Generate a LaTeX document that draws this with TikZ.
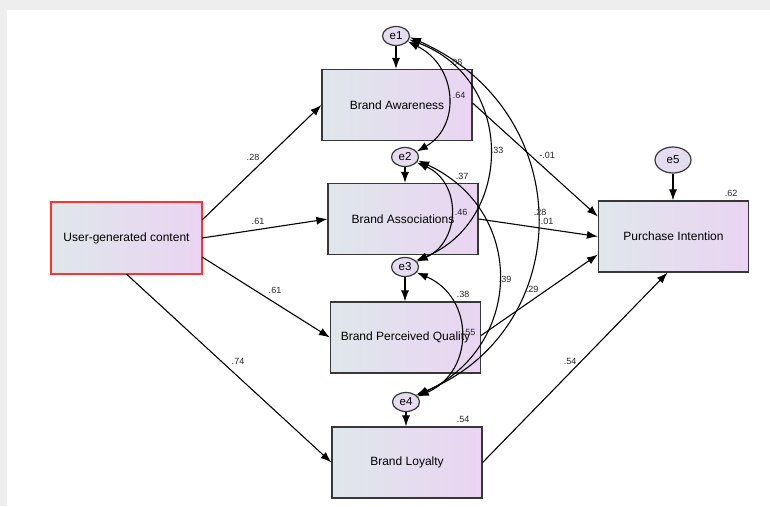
\documentclass[tikz,border=0pt]{standalone}
\usepackage{fontspec}
\setmainfont{Liberation Sans}
\usetikzlibrary{arrows.meta,shapes.geometric}
\definecolor{boxl}{RGB}{223,231,235}
\definecolor{boxr}{RGB}{234,212,242}
\definecolor{errfill}{RGB}{230,220,242}
\definecolor{edge}{RGB}{55,55,55}
\definecolor{bggray}{RGB}{238,238,238}
\definecolor{ugcred}{RGB}{255,50,50}
\begin{document}
\begin{tikzpicture}[x=1pt,y=-1pt,
  var/.style={draw=edge, line width=1.2pt, left color=boxl, right color=boxr,
    minimum width=150pt, minimum height=71pt, inner sep=0pt,
    font=\fontsize{12}{14}\selectfont},
  err/.style={ellipse, draw=edge, line width=1.2pt, fill=errfill,
    minimum width=27pt, minimum height=19pt, inner sep=0pt,
    font=\fontsize{11.5}{12}\selectfont},
  pth/.style={-{Latex[length=11pt,width=8pt]}, line width=1.1pt, black},
  cov/.style={{Latex[length=11pt,width=8pt]}-{Latex[length=11pt,width=8pt]}, line width=1.1pt, black},
  lbl/.style={font=\fontsize{9}{10}\selectfont, inner sep=0pt, text=black!85}
]
% background
\fill[bggray] (0,0) rectangle (770,506);
\fill[white] (7,10) rectangle (770,506);
\useasboundingbox (0,0) rectangle (770,506);

% nodes
\node[var, draw=none] (UGC) at (126.5,238) {User-generated content};
\draw[ugcred, line width=1.3pt] (UGC.north west) rectangle (UGC.south east);
\node[var] (BA)  at (397,105) {Brand Awareness};
\node[var] (BAs) at (403,219) {Brand Associations};
\node[var] (BPQ) at (405.5,337.5) {Brand Perceived Quality};
\node[var] (BL)  at (407,462.5) {Brand Loyalty};
\node[var] (PI)  at (673.5,236.5) {Purchase Intention};

\node[err] (e1) at (396,36) {e1};
\node[err] (e2) at (405,157) {e2};
\node[err] (e3) at (405,267) {e3};
\node[err] (e4) at (406,402) {e4};
\node[err, minimum width=36pt, minimum height=26pt] (e5) at (673,160) {e5};

% error arrows
\draw[pth] (e1.south) -- (e1.south |- BA.north);
\draw[pth] (e2.south) -- (e2.south |- BAs.north);
\draw[pth] (e3.south) -- (e3.south |- BPQ.north);
\draw[pth] (e4.south) -- (e4.south |- BL.north);
\draw[pth] (e5.south) -- (e5.south |- PI.north);

% paths from UGC
\draw[pth] ([yshift=18pt]UGC.east) -- (BA.west);
\draw[pth] (UGC.east) -- (BAs.west);
\draw[pth] ([yshift=-19pt]UGC.east) -- (BPQ.west);
\draw[pth] (UGC.south) -- (BL.west);

% paths to PI
\draw[pth] ([yshift=2pt]BA.east) -- ([yshift=20pt]PI.west);
\draw[pth] (BAs.east) -- (PI.west);
\draw[pth] ([yshift=2pt]BPQ.east) -- ([yshift=-18pt]PI.west);
\draw[pth] (BL.east) -- ([xshift=-6pt]PI.south);

% covariances
\draw[cov] (e1.-25) .. controls +(50,25) and +(44,-25) .. (e2.25);
\draw[cov] (e1.-15) .. controls +(106,40) and +(98,-40) .. (e3.30);
\draw[cov] (e1.-5) .. controls +(170,75) and +(160,-65) .. (e4.35);
\draw[cov] (e2.-25) .. controls +(45,20) and +(44,-20) .. (e3.25);
\draw[cov] (e2.-15) .. controls +(108,50) and +(107,-50) .. (e4.30);
\draw[cov] (e3.-25) .. controls +(58,25) and +(57,-25) .. (e4.25);

% labels
\node[lbl] (l1) at (456,62) {.08};
\node[lbl] (l2) at (459,95) {.64};
\node[lbl] (l3) at (497,150) {.33};
\node[lbl] (l4) at (547,155) {-.01};
\node[lbl] (l5) at (462,176) {.37};
\node[lbl] (l6) at (461,212) {.46};
\node[lbl] (l7) at (540,212) {.28};
\node[lbl] (l8) at (547,221) {.01};
\node[lbl] (l9) at (505,279) {.39};
\node[lbl] (l10) at (532,289) {.29};
\node[lbl] (l11) at (463,294) {.38};
\node[lbl] (l12) at (469,332) {.55};
\node[lbl] (l13) at (463,419) {.54};
\node[lbl] (l14) at (570,361) {.54};
\node[lbl] (l15) at (731,193) {.62};
\node[lbl] (l16) at (253,157) {.28};
\node[lbl] (l17) at (258,221) {.61};
\node[lbl] (l18) at (275,290) {.61};
\node[lbl] (l19) at (238,361) {.74};
\end{tikzpicture}
\end{document}
